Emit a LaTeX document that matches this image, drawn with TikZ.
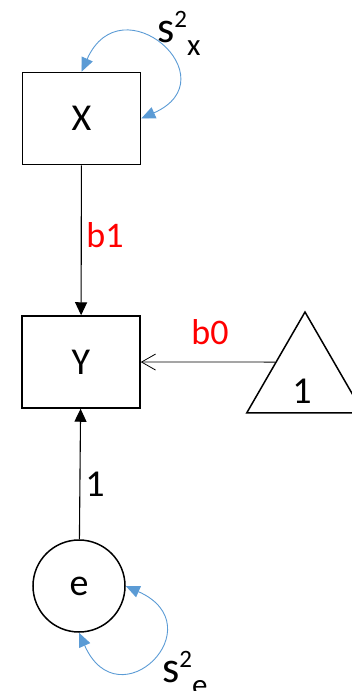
\documentclass[tikz,border=0pt]{standalone}
\usepackage{fontspec}
\setmainfont{Carlito}
\usetikzlibrary{arrows.meta,shapes.geometric}
\definecolor{pathblue}{RGB}{91,155,213}
\definecolor{coefred}{RGB}{255,0,0}

\begin{document}
\begin{tikzpicture}[x=1pt,y=-1pt,
  obs/.style={draw,line width=1.5pt,minimum width=118pt,minimum height=92pt,inner sep=0pt,font=\fontsize{38}{40}\selectfont},
  lat/.style={draw,circle,line width=1.5pt,minimum size=92pt,inner sep=0pt,font=\fontsize{38}{40}\selectfont},
  const/.style={draw,regular polygon,regular polygon sides=3,line width=1.5pt,minimum size=134.6pt,inner sep=0pt},
  txt/.style={inner sep=0pt,font=\fontsize{38}{40}\selectfont},
  coef/.style={inner sep=0pt,text=coefred,font=\fontsize{36}{38}\selectfont},
  regpath/.style={line width=1.1pt,-{Triangle[length=13pt,width=12pt]}},
  varpath/.style={pathblue,line width=0.9pt,{Triangle[length=14pt,width=12pt]}-{Triangle[length=14pt,width=12pt]}}]
\useasboundingbox (0,0) rectangle (352,691);
\clip (0,0) rectangle (352,691);

\node[obs] (x) at (81.5,118.5) {X};
\node[obs] (y) at (81,362) {Y};
\node[lat] (e) at (79,586) {e};
\node[const] (unit) at (305,379.3) {};
\node[txt] (unitlbl) at (302,391) {1};

\draw[regpath] (x) -- (y);
\draw[regpath] (e) -- (y);
\draw[line width=0.8pt,-{Straight Barb[length=14pt,width=16pt]}] (unit.side 1) -- (y);

\node[coef] (b1) at (105,235) {b1};
\node[coef] (b0) at (210,332) {b0};
\node[txt] (one) at (95,484) {1};

\draw[varpath] (x.north) .. controls +(40,-90) and +(90,-40) .. (x.east);
\draw[varpath] (e.south) .. controls +(40,90) and +(90,40) .. (e.east);

\node[inner sep=0pt,anchor=base west] (sx) at (157,42)
  {\fontsize{44}{44}\selectfont s\raisebox{15pt}{\fontsize{25}{25}\selectfont 2}\raisebox{-13pt}{\fontsize{31}{31}\selectfont x}};
\node[inner sep=0pt,anchor=base west] (se) at (162,682)
  {\fontsize{44}{44}\selectfont s\raisebox{15pt}{\fontsize{25}{25}\selectfont 2}\raisebox{-13pt}{\fontsize{31}{31}\selectfont e}};
\end{tikzpicture}
\end{document}
